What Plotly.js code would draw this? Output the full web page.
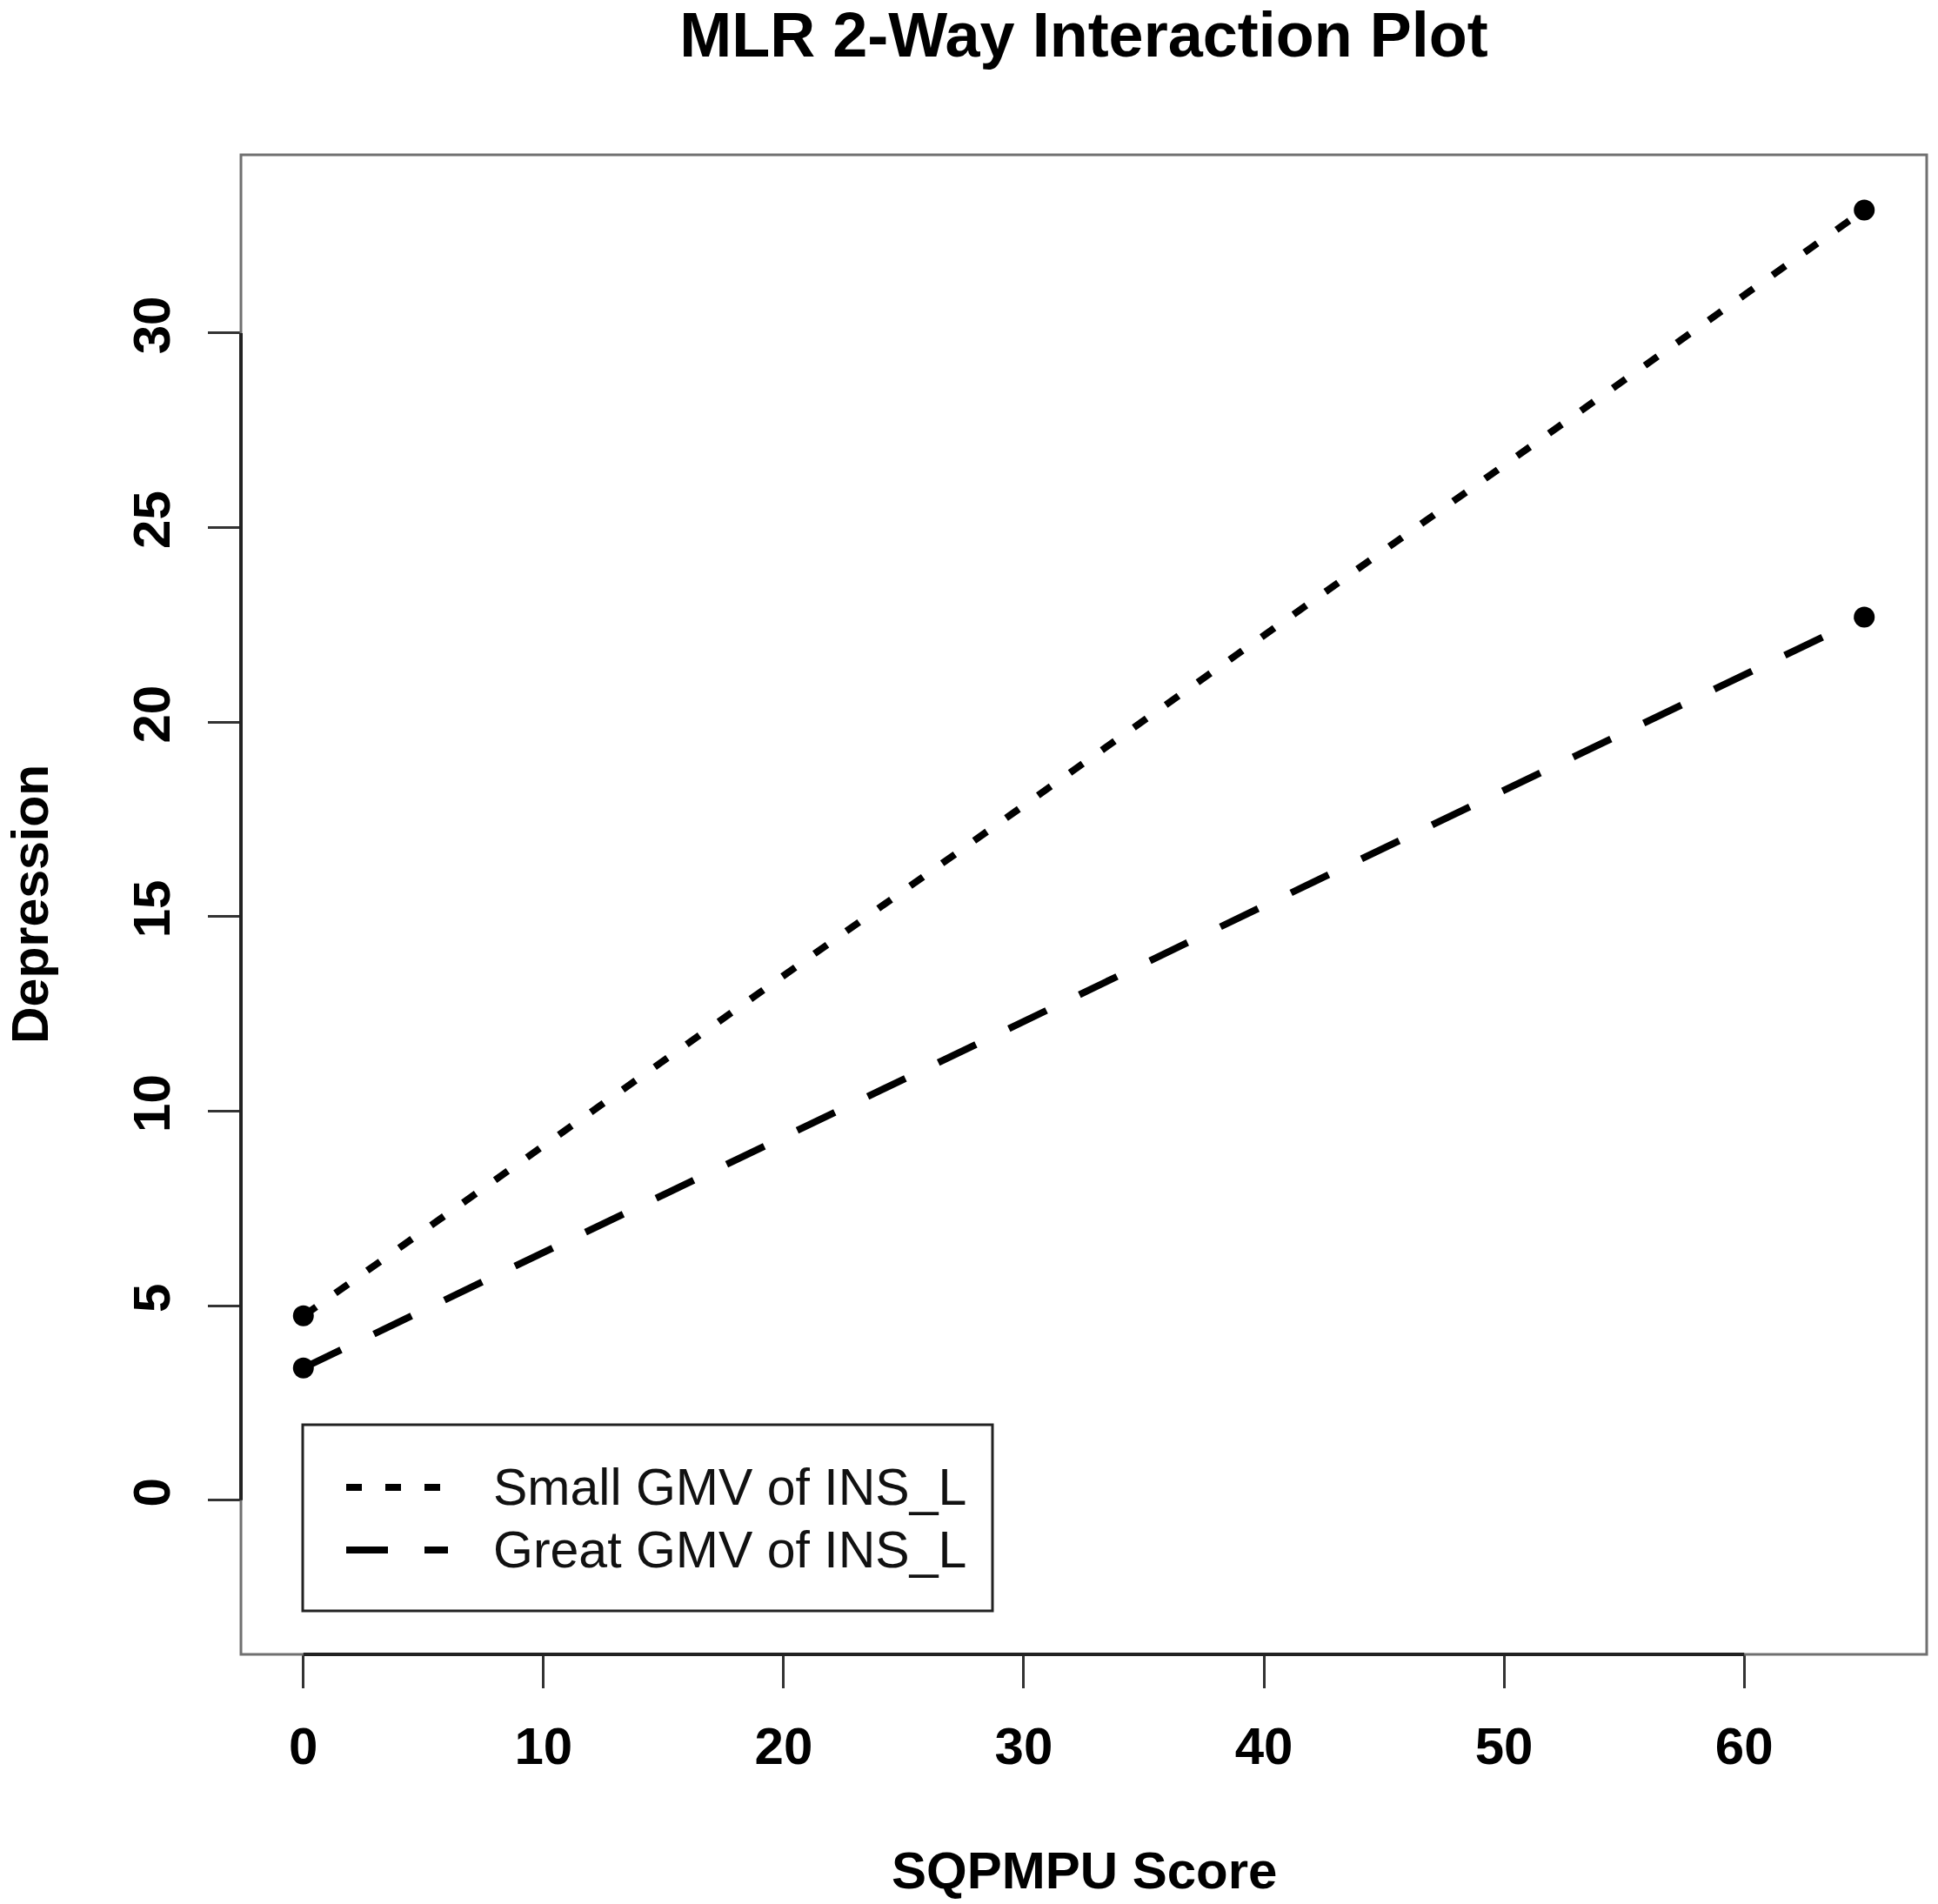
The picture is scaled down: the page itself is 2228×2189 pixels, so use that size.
<!DOCTYPE html>
<html>
<head>
<meta charset="utf-8">
<script src="https://cdn.plot.ly/plotly-3.0.1.min.js"></script>
<style>
  html, body { margin: 0; padding: 0; background: #ffffff; }
  #chart { width: 2228px; height: 2189px; }
</style>
</head>
<body>
<div id="chart"></div>
<script>
// ---- data ----
var xValues = [0, 65];
var smallGMV = [4.74, 33.16];
var greatGMV = [3.40, 22.70];
var seriesNames = ['Small GMV of INS_L', 'Great GMV of INS_L'];
var xTicks = [0, 10, 20, 30, 40, 50, 60];
var yTicks = [0, 5, 10, 15, 20, 25, 30];
var chartTitle = 'MLR 2-Way Interaction Plot';
var xTitle = 'SQPMPU Score';
var yTitle = 'Depression';

// ---- layout geometry ----
var W = 2228, H = 2189;
var M = { l: 277, r: 13, t: 178, b: 287 };
var plotW = W - M.l - M.r, plotH = H - M.t - M.b;
function px(x) { return (x - M.l) / plotW; }
function py(y) { return (H - M.b - y) / plotH; }

var FONT = 'Liberation Sans, Arial, Helvetica, sans-serif';
var dashSmall = '18px,27px';
var dashGreat = '48px,42px';
var lineW = 8;

var traces = [
  {
    x: xValues, y: smallGMV, name: seriesNames[0], type: 'scatter', mode: 'lines+markers',
    line: { color: '#000', width: lineW, dash: dashSmall },
    marker: { color: '#000', size: 24, symbol: 'circle' },
    showlegend: false
  },
  {
    x: xValues, y: greatGMV, name: seriesNames[1], type: 'scatter', mode: 'lines+markers',
    line: { color: '#000', width: lineW, dash: dashGreat },
    marker: { color: '#000', size: 24, symbol: 'circle' },
    showlegend: false
  }
];

var tickFont = { family: FONT, size: 60, color: '#000', weight: 700 };

var shapes = [
  // plot box
  { type: 'rect', xref: 'paper', yref: 'paper', x0: 0, x1: 1, y0: 0, y1: 1,
    line: { color: '#707070', width: 3 }, layer: 'above' },
  // axis lines over tick range
  { type: 'line', xref: 'x', yref: 'paper', x0: xTicks[0], x1: xTicks[xTicks.length - 1], y0: 0, y1: 0,
    line: { color: '#222', width: 4 }, layer: 'above' },
  { type: 'line', xref: 'paper', yref: 'y', x0: 0, x1: 0, y0: yTicks[0], y1: yTicks[yTicks.length - 1],
    line: { color: '#222', width: 4 }, layer: 'above' },
  // legend box
  { type: 'rect', xref: 'paper', yref: 'paper', x0: px(348), x1: px(1141), y0: py(1852), y1: py(1638),
    line: { color: '#222', width: 3 }, fillcolor: 'rgba(255,255,255,0)', layer: 'above' },
  // legend samples
  { type: 'line', xref: 'paper', yref: 'paper', x0: px(398), x1: px(515), y0: py(1710), y1: py(1710),
    line: { color: '#000', width: lineW, dash: dashSmall }, layer: 'above' },
  { type: 'line', xref: 'paper', yref: 'paper', x0: px(398), x1: px(515), y0: py(1782), y1: py(1782),
    line: { color: '#000', width: lineW, dash: dashGreat }, layer: 'above' }
];

var annotations = [
  { text: seriesNames[0], xref: 'paper', yref: 'paper', x: px(565), y: py(1710),
    xanchor: 'left', yanchor: 'middle', showarrow: false,
    font: { family: FONT, size: 59, color: '#111' } },
  { text: seriesNames[1], xref: 'paper', yref: 'paper', x: px(565), y: py(1782),
    xanchor: 'left', yanchor: 'middle', showarrow: false,
    font: { family: FONT, size: 59, color: '#111' } },
  { text: xTitle, xref: 'paper', yref: 'paper', x: 0.5, y: 0, yshift: -248,
    xanchor: 'center', yanchor: 'middle', showarrow: false,
    font: { family: FONT, size: 60, color: '#000', weight: 700 } },
  { text: yTitle, xref: 'paper', yref: 'paper', x: 0, y: 0.5, xshift: -242, textangle: -90,
    xanchor: 'center', yanchor: 'middle', showarrow: false,
    font: { family: FONT, size: 59, color: '#000', weight: 700 } }
];

var layout = {
  width: W, height: H,
  margin: M,
  paper_bgcolor: '#fff', plot_bgcolor: '#fff',
  showlegend: false,
  title: {
    text: chartTitle, xref: 'paper', x: 0.5, xanchor: 'center',
    yref: 'container', y: 1 - 40 / H, yanchor: 'middle',
    font: { family: FONT, size: 72, color: '#000', weight: 700 }
  },
  xaxis: {
    range: [-2.6, 67.6], tickvals: xTicks, ticktext: xTicks.map(String),
    ticks: 'outside', ticklen: 38, tickwidth: 3, tickcolor: '#333',
    showgrid: false, zeroline: false, showline: false,
    tickfont: tickFont, ticklabelstandoff: 15
  },
  yaxis: {
    range: [-3.96, 34.58], tickvals: yTicks, ticktext: yTicks.map(String),
    ticks: 'outside', ticklen: 37, tickwidth: 3, tickcolor: '#333',
    showgrid: false, zeroline: false, showline: false,
    tickangle: -90, tickfont: tickFont, ticklabelstandoff: 20
  },
  shapes: shapes,
  annotations: annotations
};

Plotly.newPlot('chart', traces, layout, { staticPlot: true, displayModeBar: false });
</script>
</body>
</html>
